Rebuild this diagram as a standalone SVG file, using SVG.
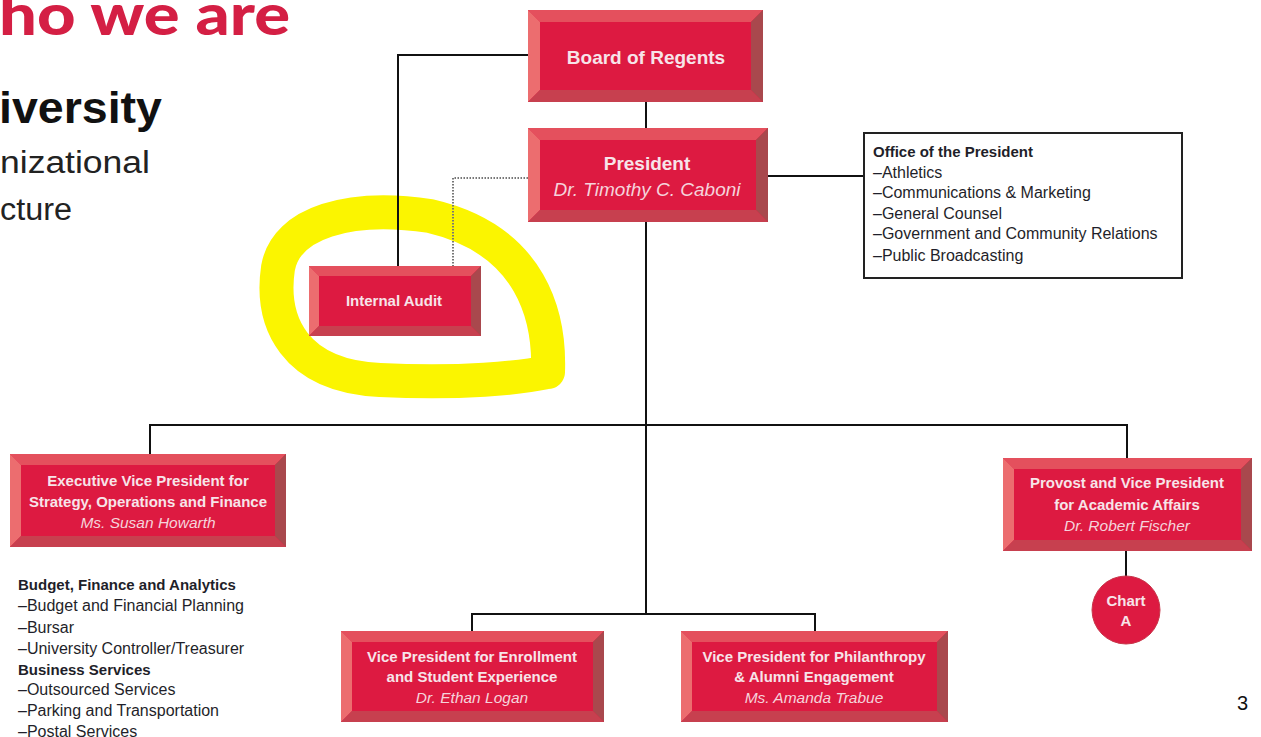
<svg xmlns="http://www.w3.org/2000/svg" width="1261" height="737" viewBox="0 0 1261 737">
<style>
.bg{fill:#ffffff}
.face{fill:#dd1a41}
.bt{fill:#e4505d}
.bl{fill:#ec6d6f}
.br{fill:#a9484d}
.bb{fill:#c7404f}
.lbl{font-family:"Liberation Sans",Arial,sans-serif;font-weight:bold;fill:#f7e4e9;text-anchor:middle;font-size:15px}
.nm{font-family:"Liberation Sans",Arial,sans-serif;font-style:italic;fill:#f5d3db;text-anchor:middle;font-size:15.5px}
.lbl.big,.nm.big{font-size:19px}
.list{font-family:"Liberation Sans",Arial,sans-serif;fill:#1f1f2a;font-size:16px}
.lb{font-weight:bold;font-size:15px}
.conn{fill:none;stroke:#111;stroke-width:2}
.dot{fill:none;stroke:#777;stroke-width:2;stroke-dasharray:1.5 1.5}
</style>
<rect class="bg" x="0" y="0" width="1261" height="737"/>

<!-- slide header texts -->
<g id="slide-title">
<text x="-1" y="35" font-family="Lato,'Liberation Sans',sans-serif" font-weight="900" font-size="58" fill="#d41f44" textLength="291" lengthAdjust="spacingAndGlyphs">ho we are</text>
<text x="-1" y="123" font-family="'Liberation Sans',Arial,sans-serif" font-weight="bold" font-size="44" fill="#111" textLength="163" lengthAdjust="spacingAndGlyphs">iversity</text>
<text x="0" y="173" font-family="'Liberation Sans',Arial,sans-serif" font-size="31" fill="#222" textLength="150" lengthAdjust="spacingAndGlyphs">nizational</text>
<text x="0" y="220" font-family="'Liberation Sans',Arial,sans-serif" font-size="31" fill="#222" textLength="72" lengthAdjust="spacingAndGlyphs">cture</text>
</g>

<!-- yellow highlight -->
<g id="highlight">
<path d="M548 372 C550 318 533 240 430 216 C350 204 286 222 278 268 C270 322 294 376 380 380 C462 384 520 378 548 372" fill="none" stroke="#fbf500" stroke-width="34" stroke-linecap="round" stroke-linejoin="round"/>
</g>

<!-- connectors -->
<g id="connectors">
<path class="conn" d="M528 55 H398 V266"/>
<path class="conn" d="M646 102 V128"/>
<path class="dot" d="M528 178 H453 V266"/>
<path class="conn" d="M768 176 H864"/>
<path class="conn" d="M646 222 V614"/>
<path class="conn" d="M150 454 V425 H1127 V458"/>
<path class="conn" d="M472 631 V614 H815 V631"/>
<path class="conn" d="M1126 551 V577"/>
</g>

<!-- nodes -->
<g id="board">
<rect class="face" x="528" y="10" width="235" height="92"/>
<polygon class="bt" points="528,10 763,10 751,22 540,22"/>
<polygon class="bl" points="528,10 540,22 540,90 528,102"/>
<polygon class="br" points="763,10 763,102 751,90 751,22"/>
<polygon class="bb" points="528,102 540,90 751,90 763,102"/>
<text class="lbl big" x="646" y="64">Board of Regents</text>
</g>

<g id="president">
<rect class="face" x="528" y="128" width="240" height="94"/>
<polygon class="bt" points="528,128 768,128 756,140 540,140"/>
<polygon class="bl" points="528,128 540,140 540,210 528,222"/>
<polygon class="br" points="768,128 768,222 756,210 756,140"/>
<polygon class="bb" points="528,222 540,210 756,210 768,222"/>
<text class="lbl big" x="647" y="170">President</text>
<text class="nm big" x="647" y="196">Dr. Timothy C. Caboni</text>
</g>

<g id="office">
<rect x="864" y="133" width="318" height="145" fill="#fff" stroke="#222" stroke-width="2"/>
<text class="list lb" x="873" y="157">Office of the President</text>
<text class="list" x="873" y="177.5">–Athletics</text>
<text class="list" x="873" y="198">–Communications &amp; Marketing</text>
<text class="list" x="873" y="218.5">–General Counsel</text>
<text class="list" x="873" y="239">–Government and Community Relations</text>
<text class="list" x="873" y="261">–Public Broadcasting</text>
</g>

<g id="internal-audit">
<rect class="face" x="309" y="266" width="172" height="70"/>
<polygon class="bt" points="309,266 481,266 471,276 319,276"/>
<polygon class="bl" points="309,266 319,276 319,326 309,336"/>
<polygon class="br" points="481,266 481,336 471,326 471,276"/>
<polygon class="bb" points="309,336 319,326 471,326 481,336"/>
<text class="lbl" x="394" y="306">Internal Audit</text>
</g>

<g id="evp">
<rect class="face" x="10" y="454" width="276" height="93"/>
<polygon class="bt" points="10,454 286,454 275,465 21,465"/>
<polygon class="bl" points="10,454 21,465 21,536 10,547"/>
<polygon class="br" points="286,454 286,547 275,536 275,465"/>
<polygon class="bb" points="10,547 21,536 275,536 286,547"/>
<text class="lbl" x="148" y="486">Executive Vice President for</text>
<text class="lbl" x="148" y="507">Strategy, Operations and Finance</text>
<text class="nm" x="148" y="528">Ms. Susan Howarth</text>
</g>

<g id="evp-units">
<text class="list lb" x="18" y="590">Budget, Finance and Analytics</text>
<text class="list" x="18" y="611">–Budget and Financial Planning</text>
<text class="list" x="18" y="633">–Bursar</text>
<text class="list" x="18" y="654">–University Controller/Treasurer</text>
<text class="list lb" x="18" y="674.5">Business Services</text>
<text class="list" x="18" y="695">–Outsourced Services</text>
<text class="list" x="18" y="716">–Parking and Transportation</text>
<text class="list" x="18" y="736.5">–Postal Services</text>
</g>

<g id="provost">
<rect class="face" x="1003" y="458" width="249" height="93"/>
<polygon class="bt" points="1003,458 1252,458 1241,469 1014,469"/>
<polygon class="bl" points="1003,458 1014,469 1014,540 1003,551"/>
<polygon class="br" points="1252,458 1252,551 1241,540 1241,469"/>
<polygon class="bb" points="1003,551 1014,540 1241,540 1252,551"/>
<text class="lbl" x="1127" y="488">Provost and Vice President</text>
<text class="lbl" x="1127" y="510">for Academic Affairs</text>
<text class="nm" x="1127" y="531">Dr. Robert Fischer</text>
</g>

<g id="chart-a">
<circle cx="1126" cy="610" r="34" fill="#dd1a41" stroke="#c8364a" stroke-width="1"/>
<text class="lbl" x="1126" y="606">Chart</text>
<text class="lbl" x="1126" y="626">A</text>
</g>

<g id="vp-enrollment">
<rect class="face" x="341" y="631" width="263" height="91"/>
<polygon class="bt" points="341,631 604,631 593,642 352,642"/>
<polygon class="bl" points="341,631 352,642 352,711 341,722"/>
<polygon class="br" points="604,631 604,722 593,711 593,642"/>
<polygon class="bb" points="341,722 352,711 593,711 604,722"/>
<text class="lbl" x="472" y="662">Vice President for Enrollment</text>
<text class="lbl" x="472" y="682">and Student Experience</text>
<text class="nm" x="472" y="703">Dr. Ethan Logan</text>
</g>

<g id="vp-philanthropy">
<rect class="face" x="681" y="631" width="267" height="91"/>
<polygon class="bt" points="681,631 948,631 937,642 692,642"/>
<polygon class="bl" points="681,631 692,642 692,711 681,722"/>
<polygon class="br" points="948,631 948,722 937,711 937,642"/>
<polygon class="bb" points="681,722 692,711 937,711 948,722"/>
<text class="lbl" x="814" y="662">Vice President for Philanthropy</text>
<text class="lbl" x="814" y="682">&amp; Alumni Engagement</text>
<text class="nm" x="814" y="703">Ms. Amanda Trabue</text>
</g>

<g id="page-number">
<text x="1237" y="710" font-family="'Liberation Sans',Arial,sans-serif" font-size="20" fill="#111">3</text>
</g>
</svg>
